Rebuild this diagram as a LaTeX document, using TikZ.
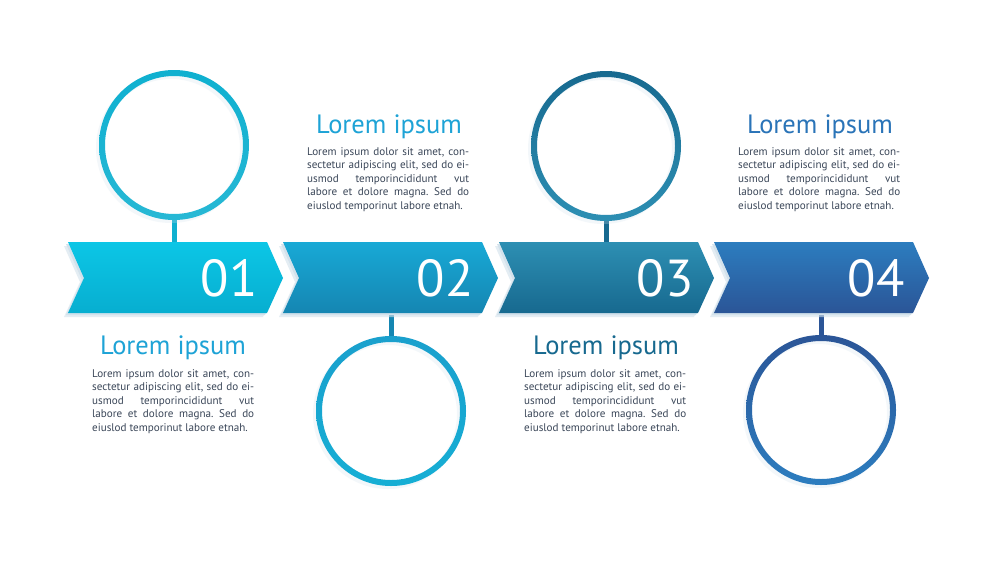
\documentclass[tikz,border=0pt]{standalone}
\usepackage{fontspec}
\setmainfont{PT Sans}
\frenchspacing
\definecolor{aT}{HTML}{0CC6E6}\definecolor{aB}{HTML}{07AED0}\definecolor{aC}{HTML}{0FB0D0}
\definecolor{bT}{HTML}{18A9D6}\definecolor{bB}{HTML}{1586B2}\definecolor{bC}{HTML}{1AA0CD}
\definecolor{cT}{HTML}{2D8FB3}\definecolor{cB}{HTML}{17698F}\definecolor{cC}{HTML}{1C7BA2}
\definecolor{dT}{HTML}{2C7DBF}\definecolor{dB}{HTML}{2B5597}\definecolor{dC}{HTML}{2A64A7}
\definecolor{ttl}{HTML}{1EA3D6}\definecolor{ttlc}{HTML}{17698F}\definecolor{ttld}{HTML}{2A74B8}
\definecolor{body}{HTML}{3A4658}\definecolor{shd}{HTML}{D3E2EC}
\newcommand\chevpath[1]{(#1,242) -- (#1+199,242) -- (#1+215,278) -- (#1+199,313) -- (#1,313) -- (#1+16,278) -- cycle}
\newcommand\loremtext{\setlength\parfillskip{0pt}Lorem ipsum dolor sit amet, con-\linebreak sectetur adipiscing elit, sed do ei-\linebreak usmod temporincididunt vut\linebreak labore et dolore magna. Sed do\linebreak eiuslod temporinut labore etnah.}
\begin{document}
\begin{tikzpicture}[x=1pt,y=-1pt,
  numtext/.style={font=\fontsize{52}{52}\selectfont, text=white, inner sep=0},
  titletext/.style={font=\fontsize{26.5}{26}\selectfont, anchor=base, inner sep=0},
  bodytext/.style={font=\fontsize{11.1}{13.6}\selectfont, text=body, anchor=north west, inner sep=0, text width=162pt, align=justify},
  ringnode/.style={circle, minimum size=150pt, inner sep=0},
  stem/.style={line width=5pt}]
\fill[white] (0,0) rectangle (1000,568);
\useasboundingbox (0,0) rectangle (1000,568);
% ring nodes
\node[ringnode] (c1) at (174,145) {};
\node[ringnode] (c2) at (391,411) {};
\node[ringnode] (c3) at (606,146) {};
\node[ringnode] (c4) at (821,410) {};
% stem ends on chevrons
\coordinate (t1) at (174,245);
\coordinate (t2) at (391,310);
\coordinate (t3) at (606,245);
\coordinate (t4) at (821,310);
\draw[stem, aC] (c1.south) -- (t1);
\draw[stem, bB] (c2.north) -- (t2);
\draw[stem, cB] (c3.south) -- (t3);
\draw[stem, dB] (c4.north) -- (t4);
% ring shadows
\foreach \c in {c1,c2,c3,c4}{
  \fill[shd, opacity=0.25, even odd rule] ([shift={(-3,3)}]\c.center) circle (75) ([shift={(-3,3)}]\c.center) circle (69);
}
% rings
\shade[top color=aC, bottom color=aC!90!white, even odd rule] (c1.center) circle (75) (c1.center) circle (69);
\shade[top color=bC, bottom color=bC!85!cyan, even odd rule] (c2.center) circle (75) (c2.center) circle (69);
\shade[top color=cB, bottom color=cT, even odd rule] (c3.center) circle (75) (c3.center) circle (69);
\shade[top color=dB, bottom color=dT, even odd rule] (c4.center) circle (75) (c4.center) circle (69);
% chevron shadows
\foreach \x in {68,283,499,714}{
  \begin{scope}[shift={(-4,4)}]
    \fill[shd, opacity=0.6] \chevpath{\x};
  \end{scope}
  \begin{scope}[shift={(-2,2)}]
    \fill[shd] \chevpath{\x};
  \end{scope}
}
% chevrons
\shade[top color=aT, bottom color=aB] \chevpath{68};
\shade[top color=bT, bottom color=bB] \chevpath{283};
\shade[top color=cT, bottom color=cB] \chevpath{499};
\shade[top color=dT, bottom color=dB] \chevpath{714};
% numbers
\node[numtext] (n1) at (229,278) {01};
\node[numtext] (n2) at (445,278) {02};
\node[numtext] (n3) at (665,278) {03};
\node[numtext] (n4) at (876,278) {04};
% titles
\node[titletext, text=ttl] (h1) at (173,354) {Lorem ipsum};
\node[titletext, text=ttl] (h2) at (389,133) {Lorem ipsum};
\node[titletext, text=ttlc] (h3) at (606,354) {Lorem ipsum};
\node[titletext, text=ttld] (h4) at (820,133) {Lorem ipsum};
% body texts
\node[bodytext] (b1) at (92,369) {\loremtext};
\node[bodytext] (b2) at (307,147) {\loremtext};
\node[bodytext] (b3) at (524,369) {\loremtext};
\node[bodytext] (b4) at (738,147) {\loremtext};
\end{tikzpicture}
\end{document}
